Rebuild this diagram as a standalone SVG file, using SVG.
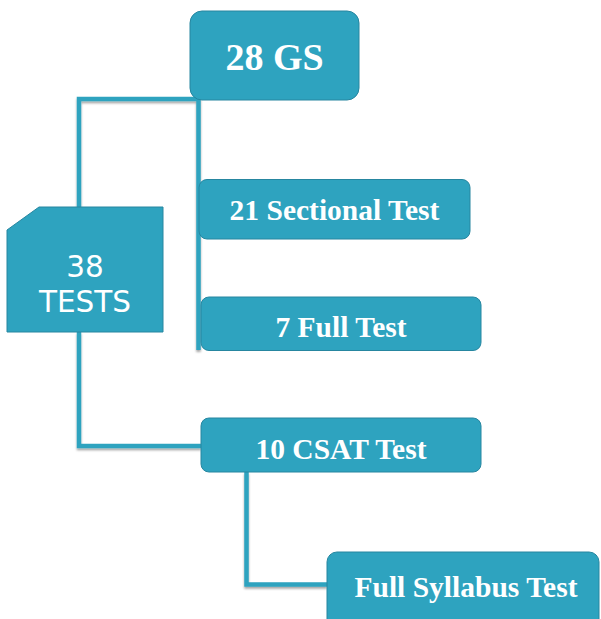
<svg xmlns="http://www.w3.org/2000/svg" width="601" height="619" viewBox="0 0 601 619">
<defs>
<filter id="sh" x="-20%" y="-20%" width="140%" height="140%">
<feDropShadow dx="0" dy="2" stdDeviation="1.2" flood-color="#000" flood-opacity="0.35"/>
</filter>
<style>
.conn{fill:none;stroke:#2ea3bf;stroke-width:4.5;stroke-linejoin:miter;filter:url(#sh)}
.box{fill:#2ea3bf;stroke:#2686a0;stroke-width:1}
.lbl{fill:#fff;font-family:"Liberation Serif","Times New Roman",serif;font-weight:bold;text-anchor:middle}
.sans{fill:#fff;font-family:"DejaVu Sans",Verdana,sans-serif;text-anchor:middle;font-size:29.5px}
</style>
</defs>
<rect width="601" height="619" fill="#fff"/>
<g id="connectors">
<path class="conn" d="M79,207 V99 H198.5 V350"/>
<path class="conn" d="M79,332 V446 H201"/>
<path class="conn" d="M246.5,472 V584.5 H327"/>
</g>
<g id="n28gs">
<rect class="box" x="190" y="11" width="169" height="89" rx="12"/>
<text class="lbl" x="274.5" y="70" font-size="38">28 GS</text>
</g>
<g id="n38tests">
<path class="box" stroke="none" d="M7,230 L39,207 L163,207 L163,332 L7,332 Z"/>
<text class="sans" x="85" y="277">38</text>
<text class="sans" x="85" y="311.5">TESTS</text>
</g>
<g id="nsectional">
<rect class="box" x="199" y="179.5" width="271" height="59.5" rx="8"/>
<text class="lbl" x="334.5" y="220" font-size="29.5">21 Sectional Test</text>
</g>
<g id="nfull">
<rect class="box" x="201" y="297" width="280" height="53.5" rx="8"/>
<text class="lbl" x="341" y="337" font-size="29.5">7 Full Test</text>
</g>
<g id="ncsat">
<rect class="box" x="201" y="418" width="280" height="54" rx="8"/>
<text class="lbl" x="341" y="459" font-size="29.5">10 CSAT Test</text>
</g>
<g id="nsyllabus">
<rect class="box" x="327" y="552" width="272" height="80" rx="10"/>
<text class="lbl" x="466" y="597" font-size="29.5">Full Syllabus Test</text>
</g>
</svg>
